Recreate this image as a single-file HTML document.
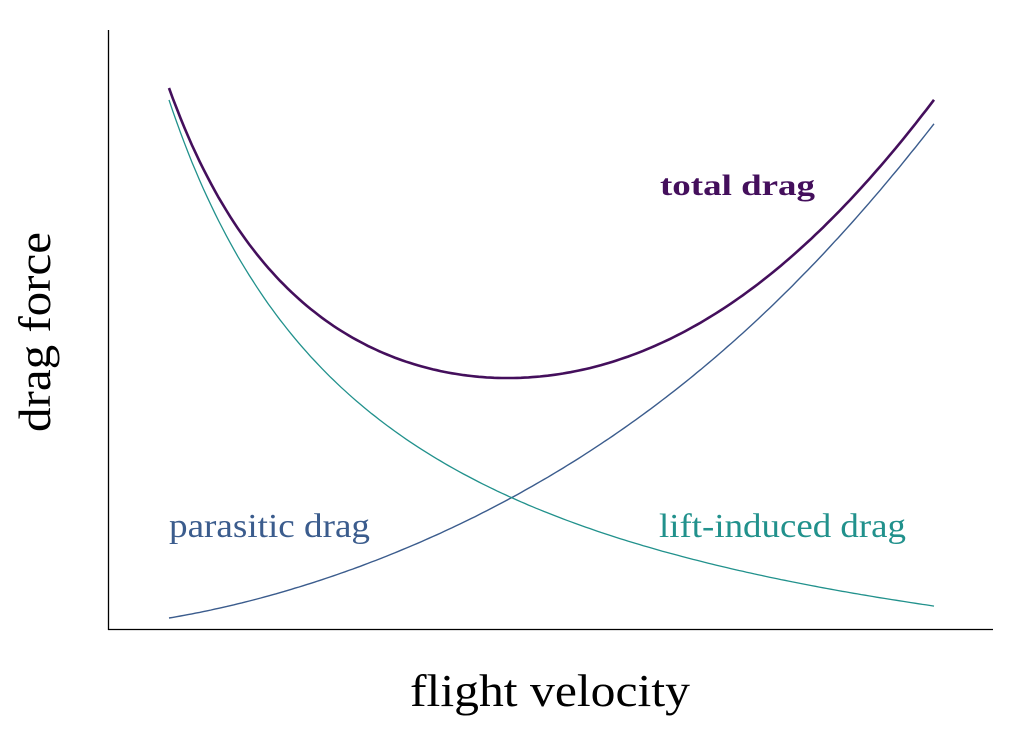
<!DOCTYPE html>
<html><head><meta charset="utf-8"><style>
html,body{margin:0;padding:0;background:#fff;}
svg{display:block;font-family:"Liberation Serif",serif;}
</style></head><body>
<svg id="s" width="1024" height="731" viewBox="0 0 1024 731" xmlns="http://www.w3.org/2000/svg">
<line x1="108.5" y1="30" x2="108.5" y2="630" stroke="#000" stroke-width="1.3"/>
<line x1="108" y1="629.5" x2="993" y2="629.5" stroke="#000" stroke-width="1.3"/>
<path id="par" fill="none" stroke="#3b5c8d" stroke-width="1.4"/>
<path id="lift" fill="none" stroke="#21918c" stroke-width="1.3"/>
<path id="tot" fill="none" stroke="#440f5c" stroke-width="2.6"/>
<text x="660" y="195" font-size="30" font-weight="bold" fill="#440f5c" textLength="155" lengthAdjust="spacingAndGlyphs">total drag</text>
<text x="169" y="537" font-size="34" fill="#3b5c8d" textLength="201" lengthAdjust="spacingAndGlyphs">parasitic drag</text>
<text x="659" y="537" font-size="34" fill="#21918c" textLength="247" lengthAdjust="spacingAndGlyphs">lift-induced drag</text>
<text x="410" y="706" font-size="46" fill="#000" textLength="280" lengthAdjust="spacingAndGlyphs">flight velocity</text>
<text transform="translate(50,432) rotate(-90)" font-size="46" fill="#000" textLength="200" lengthAdjust="spacingAndGlyphs">drag force</text>
</svg>
<script>
var P=[],L=[],T=[];
for(var i=0;i<=200;i++){var t=i/200;var x=169+765*t;
var sp=3.46+19.04*t;var dp=sp*sp*(1-0.08*Math.sin(Math.PI*t));
var dl=184.4/(t+0.2838)-119.7;
var s=Math.sin(Math.PI*t);
var dt=dp+dl-13*s+55*s*(0.45-t);
P.push(x.toFixed(1)+","+(630-dp).toFixed(1));
L.push(x.toFixed(1)+","+(630-dl).toFixed(1));
T.push(x.toFixed(1)+","+(630-dt).toFixed(1));}
document.getElementById("par").setAttribute("d","M"+P.join("L"));
document.getElementById("lift").setAttribute("d","M"+L.join("L"));
document.getElementById("tot").setAttribute("d","M"+T.join("L"));
</script>
</body></html>
